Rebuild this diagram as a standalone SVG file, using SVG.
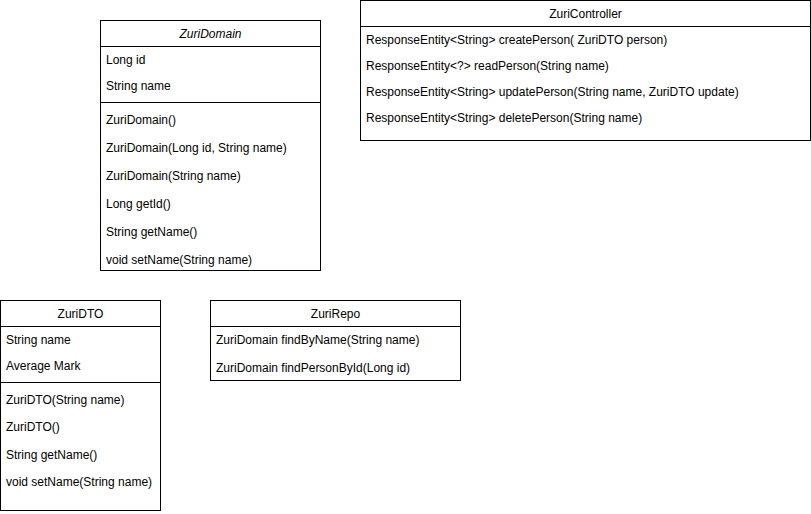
<svg xmlns="http://www.w3.org/2000/svg" width="811" height="514" viewBox="0 0 811 514">
  <style>
    .box { fill: #ffffff; stroke: #000000; stroke-width: 1; }
    .sep { stroke: #000000; stroke-width: 1; fill: none; }
    text { font-family: "Liberation Sans", Arial, sans-serif; font-size: 12px; fill: #000000; }
    .title { text-anchor: middle; }
    .abstract { font-style: italic; }
  </style>
  <rect width="811" height="514" fill="#ffffff"/>

  <g id="ZuriDomain">
    <rect class="box" x="100.5" y="20.5" width="220" height="250"/>
    <line class="sep" x1="100.5" y1="46.5" x2="320.5" y2="46.5"/>
    <line class="sep" x1="100.5" y1="102.5" x2="320.5" y2="102.5"/>
    <text class="title abstract" x="210.5" y="38">ZuriDomain</text>
    <text x="106" y="64">Long id</text>
    <text x="106" y="90">String name</text>
    <text x="106" y="124">ZuriDomain()</text>
    <text x="106" y="152">ZuriDomain(Long id, String name)</text>
    <text x="106" y="180">ZuriDomain(String name)</text>
    <text x="106" y="208">Long getId()</text>
    <text x="106" y="236">String getName()</text>
    <text x="106" y="264">void setName(String name)</text>
  </g>

  <g id="ZuriController">
    <rect class="box" x="360.5" y="0.5" width="450" height="140"/>
    <line class="sep" x1="360.5" y1="26.5" x2="810.5" y2="26.5"/>
    <text class="title" x="585.5" y="18">ZuriController</text>
    <text x="366" y="44">ResponseEntity&lt;String&gt; createPerson( ZuriDTO person)</text>
    <text x="366" y="70">ResponseEntity&lt;?&gt; readPerson(String name)</text>
    <text x="366" y="96">ResponseEntity&lt;String&gt; updatePerson(String name, ZuriDTO update)</text>
    <text x="366" y="122">ResponseEntity&lt;String&gt; deletePerson(String name)</text>
  </g>

  <g id="ZuriDTO">
    <rect class="box" x="0.5" y="300.5" width="160" height="210"/>
    <line class="sep" x1="0.5" y1="326.5" x2="160.5" y2="326.5"/>
    <line class="sep" x1="0.5" y1="382.5" x2="160.5" y2="382.5"/>
    <text class="title" x="80.5" y="318">ZuriDTO</text>
    <text x="6" y="344">String name</text>
    <text x="6" y="370">Average Mark</text>
    <text x="6" y="404">ZuriDTO(String name)</text>
    <text x="6" y="431">ZuriDTO()</text>
    <text x="6" y="459">String getName()</text>
    <text x="6" y="486">void setName(String name)</text>
  </g>

  <g id="ZuriRepo">
    <rect class="box" x="210.5" y="300.5" width="250" height="80"/>
    <line class="sep" x1="210.5" y1="326.5" x2="460.5" y2="326.5"/>
    <text class="title" x="335.5" y="318">ZuriRepo</text>
    <text x="216" y="344">ZuriDomain findByName(String name)</text>
    <text x="216" y="372">ZuriDomain findPersonById(Long id)</text>
  </g>

  <g id="connectors"></g>
</svg>
